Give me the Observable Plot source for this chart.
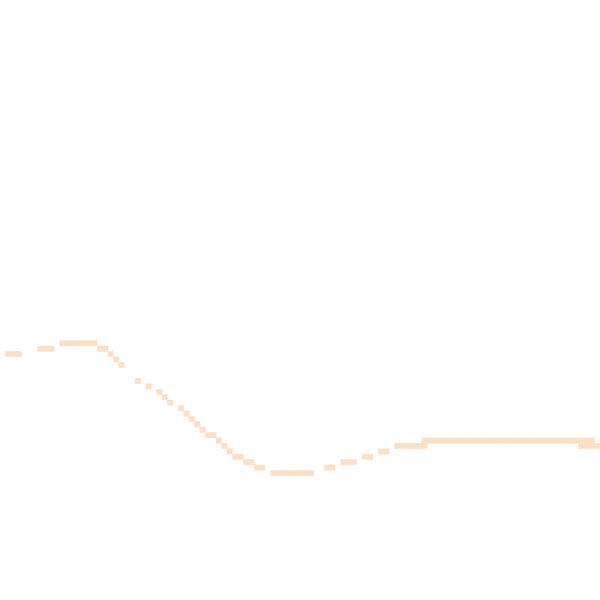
<!DOCTYPE html>
<html>
<head>
<meta charset="utf-8">
<script src="https://cdn.jsdelivr.net/npm/d3@7"></script>
<script src="https://cdn.jsdelivr.net/npm/@observablehq/plot@0.6"></script>
<style>
  html, body { margin: 0; padding: 0; background: #fff; }
</style>
</head>
<body>
<div id="chart"></div>
<script>
// Grid of 111 x 111 cells; each run is a horizontal stretch of filled cells
const gridSize = 111;
const runRow   = [65, 64, 63, 64, 65, 66, 67, 70, 71, 72, 73, 74, 75, 76, 77, 78, 79, 80, 81, 82, 83, 84, 85, 86, 87, 86, 85, 84, 83, 82, 81, 82];
const runStart = [ 1,  7, 11, 18, 20, 21, 22, 25, 27, 29, 30, 31, 33, 34, 35, 36, 37, 38, 40, 41, 42, 43, 45, 47, 50, 60, 63, 67, 70, 73, 78, 107];
const runEnd   = [ 3,  9, 17, 19, 20, 21, 22, 25, 27, 29, 30, 31, 33, 34, 35, 36, 37, 39, 40, 41, 42, 44, 46, 48, 57, 61, 65, 68, 71, 78, 109, 110];

const cells = [];
runRow.forEach((r, i) => {
  for (let c = runStart[i]; c <= runEnd[i]; c++) cells.push({col: c, row: r});
});

const chart = Plot.plot({
  width: 600,
  height: 600,
  margin: 0,
  x: {domain: d3.range(gridSize), padding: 0, axis: null},
  y: {domain: d3.range(gridSize), padding: 0, axis: null},
  marks: [
    Plot.cell(cells, {x: "col", y: "row", fill: "#fddfc5", stroke: "#fddfc5", strokeWidth: 0.4, inset: 0})
  ]
});
document.getElementById("chart").appendChild(chart);
</script>
</body>
</html>
